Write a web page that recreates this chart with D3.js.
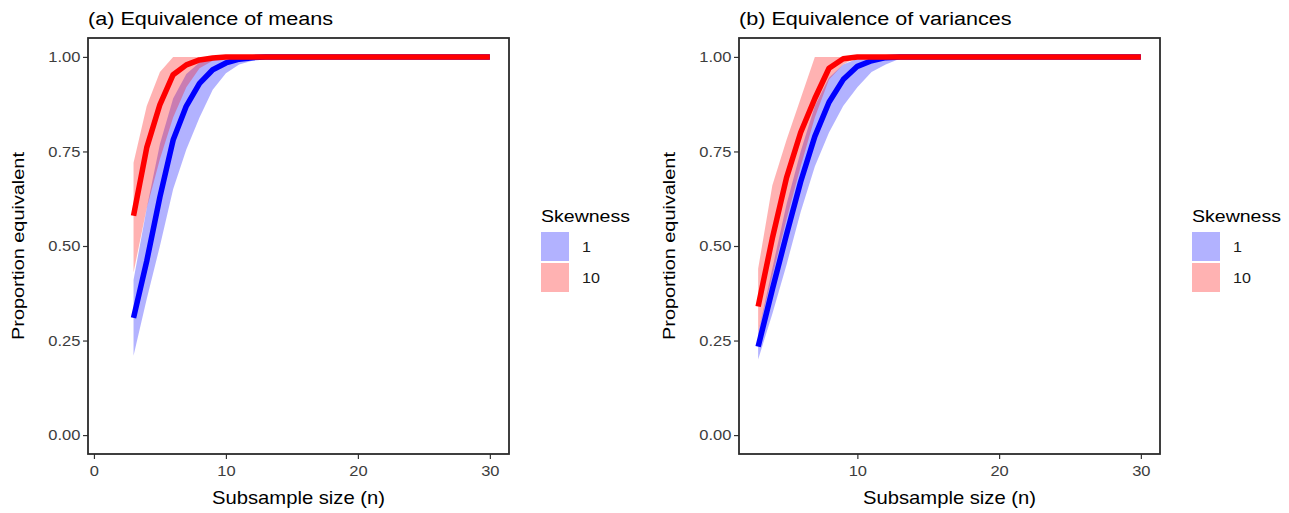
<!DOCTYPE html>
<head>
<meta charset="utf-8">
<style>
body { margin: 0; background: #fff; }
svg { display: block; font-family: "Liberation Sans", Arial, sans-serif; }
.tick text { fill: #3d3d3d; font-size: 15px; }
.tick line { stroke: #333; stroke-width: 1.2px; }
</style>
</head>
<body>
<svg width="1289" height="513"></svg>
<script src="https://d3js.org/d3.v7.min.js"></script>
<script>
// subsample sizes
var nVals = [3,4,5,6,7,8,9,10,11,12,13,14,15,16,17,18,19,20,21,22,23,24,25,26,27,28,29,30];

// (a) means, skewness 1
var meanBlue   = [0.31,0.46,0.63,0.78,0.87,0.93,0.966,0.984,0.994,0.998,1,1,1,1,1,1,1,1,1,1,1,1,1,1,1,1,1,1];
var meanBlueLo = [0.21,0.36,0.50,0.65,0.755,0.84,0.913,0.957,0.98,0.99,0.997,1,1,1,1,1,1,1,1,1,1,1,1,1,1,1,1,1];
var meanBlueHi = [0.41,0.60,0.77,0.89,0.955,0.985,0.997,1,1,1,1,1,1,1,1,1,1,1,1,1,1,1,1,1,1,1,1,1];
// (a) means, skewness 10
var meanRed    = [0.58,0.76,0.874,0.953,0.979,0.992,0.997,1,1,1,1,1,1,1,1,1,1,1,1,1,1,1,1,1,1,1,1,1];
var meanRedLo  = [0.43,0.60,0.73,0.84,0.92,0.97,0.99,1,1,1,1,1,1,1,1,1,1,1,1,1,1,1,1,1,1,1,1,1];
var meanRedHi  = [0.72,0.87,0.96,1,1,1,1,1,1,1,1,1,1,1,1,1,1,1,1,1,1,1,1,1,1,1,1,1];

// (b) variances, skewness 1
var varBlue    = [0.234,0.385,0.53,0.67,0.79,0.88,0.94,0.975,0.99,0.998,1,1,1,1,1,1,1,1,1,1,1,1,1,1,1,1,1,1];
var varBlueLo  = [0.20,0.32,0.45,0.59,0.71,0.80,0.87,0.92,0.96,0.98,0.995,1,1,1,1,1,1,1,1,1,1,1,1,1,1,1,1,1];
var varBlueHi  = [0.27,0.44,0.61,0.75,0.87,0.945,0.98,0.995,1,1,1,1,1,1,1,1,1,1,1,1,1,1,1,1,1,1,1,1];
// (b) variances, skewness 10
var varRed     = [0.34,0.52,0.68,0.80,0.89,0.97,0.995,1,1,1,1,1,1,1,1,1,1,1,1,1,1,1,1,1,1,1,1,1];
var varRedLo   = [0.27,0.42,0.57,0.71,0.84,0.94,0.98,1,1,1,1,1,1,1,1,1,1,1,1,1,1,1,1,1,1,1,1,1];
var varRedHi   = [0.44,0.66,0.78,0.89,1,1,1,1,1,1,1,1,1,1,1,1,1,1,1,1,1,1,1,1,1,1,1,1];

var yTicks = [0, 0.25, 0.5, 0.75, 1];
var skewLevels = ["1", "10"];
var lineColors = ["#0000ff", "#ff0000"];
var fillColors = ["rgba(0,0,255,0.3)", "rgba(255,0,0,0.3)"];

var SX = 1.15; // the original text is a bit wider than Arial

var svg = d3.select("svg");

function sText(g, x, y, str, size, anchor, rot) {
  var t = "translate(" + x + "," + y + ")" + (rot ? " rotate(" + rot + ")" : "") + " scale(" + SX + ",1)";
  return g.append("text")
    .attr("transform", t)
    .attr("text-anchor", anchor || "start")
    .style("font-size", size + "px")
    .attr("fill", "#000")
    .text(str);
}

function drawPanel(left, title, xDomain, xTicks, series) {
  var w = 421, h = 416, top = 38;
  var g = svg.append("g").attr("transform", "translate(" + left + "," + top + ")");
  var x = d3.scaleLinear().domain(xDomain).range([0, w]);
  var y = d3.scaleLinear().domain([-0.05, 1.05]).range([h, 0]);

  var area = d3.area()
    .x(function(d) { return x(d.n); })
    .y0(function(d) { return y(d.lo); })
    .y1(function(d) { return y(d.hi); });
  var line = d3.line()
    .x(function(d) { return x(d.n); })
    .y(function(d) { return y(d.v); });

  series.forEach(function(s, i) {
    var rows = nVals.map(function(n, k) { return {n: n, lo: s.lo[k], hi: s.hi[k]}; });
    g.append("path").datum(rows).attr("d", area).attr("fill", fillColors[i]);
  });
  series.forEach(function(s, i) {
    var rows = nVals.map(function(n, k) { return {n: n, v: s.v[k]}; });
    g.append("path").datum(rows).attr("d", line)
      .attr("fill", "none")
      .attr("stroke", lineColors[i])
      .attr("stroke-width", 5.5)
      .attr("stroke-linejoin", "round")
      .attr("stroke-linecap", "butt");
  });

  var ax = g.append("g").attr("transform", "translate(0," + h + ")")
    .call(d3.axisBottom(x).tickValues(xTicks).tickSize(5).tickPadding(6).tickFormat(d3.format("d")));
  var ay = g.append("g")
    .call(d3.axisLeft(y).tickValues(yTicks).tickSize(5).tickPadding(2).tickFormat(d3.format(".2f")));
  ax.select(".domain").remove();
  ay.select(".domain").remove();
  ax.selectAll(".tick text").attr("transform", "scale(1.1,1)").attr("x", 0);
  ay.selectAll(".tick text").attr("transform", "scale(1.1,1)");
  svg.selectAll(".tick text").style("font-family", "'Liberation Sans', Arial, sans-serif");

  g.append("rect").attr("width", w).attr("height", h)
    .attr("fill", "none").attr("stroke", "#2b2b2b").attr("stroke-width", 1.8);

  sText(g, 0, -13, title, 18.8, "start");
  sText(g, w / 2, h + 50, "Subsample size (n)", 17.6, "middle");
  sText(g, -64, h / 2, "Proportion equivalent", 17.3, "middle", -90);

  // legend
  var lg = g.append("g").attr("transform", "translate(" + (w + 32) + ",0)");
  sText(lg, 0, 184, "Skewness", 17, "start");
  skewLevels.forEach(function(lab, i) {
    lg.append("rect").attr("x", 0).attr("y", 194 + i * 31).attr("width", 28).attr("height", 29)
      .attr("fill", fillColors[i]);
    sText(lg, 41, 194 + i * 31 + 20, lab, 14, "start").attr("fill", "#1a1a1a");
  });
}

drawPanel(88, "(a) Equivalence of means", [-0.45, 31.45], [0, 10, 20, 30], [
  {v: meanBlue, lo: meanBlueLo, hi: meanBlueHi},
  {v: meanRed, lo: meanRedLo, hi: meanRedHi}
]);
drawPanel(739, "(b) Equivalence of variances", [1.65, 31.35], [10, 20, 30], [
  {v: varBlue, lo: varBlueLo, hi: varBlueHi},
  {v: varRed, lo: varRedLo, hi: varRedHi}
]);
</script>
</body>
